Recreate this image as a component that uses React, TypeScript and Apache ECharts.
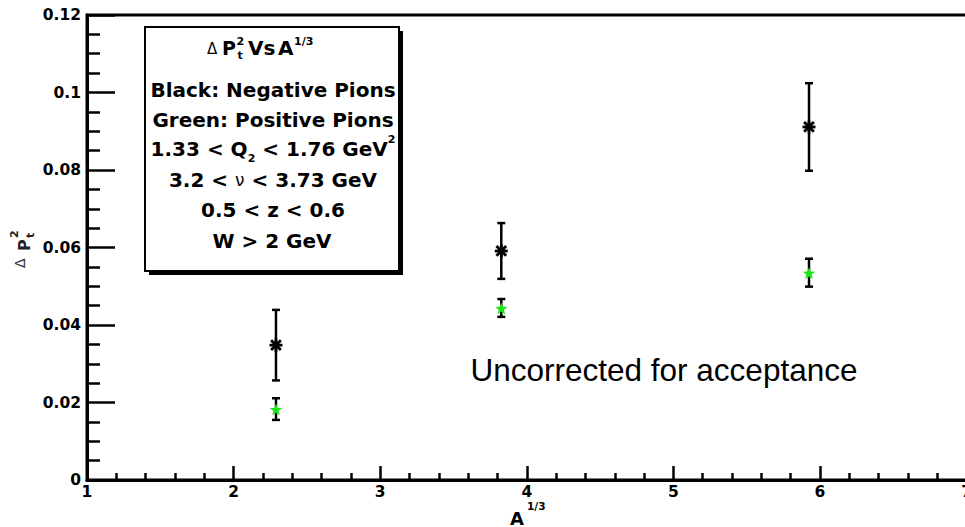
import React, { useEffect, useRef } from "react";
import * as echarts from "echarts";

// A^(1/3) of the three nuclei (C, Fe, Pb)
const nucleiX = [2.289, 3.826, 5.925];
// Black: negative pions
const negPionY = [0.0348, 0.0591, 0.0911];
const negPionErr = [0.0091, 0.0072, 0.0113];
// Green: positive pions
const posPionY = [0.0183, 0.0444, 0.0535];
const posPionErr = [0.0028, 0.0023, 0.0036];

const xTickLabels = ["1", "2", "3", "4", "5", "6", "7"];
const yTickLabels = ["0", "0.02", "0.04", "0.06", "0.08", "0.1", "0.12"];

const BOLD = { fontFamily: "DejaVu Sans", fontWeight: "bold" as const };

function errorBarItem(kind: "asterisk" | "star") {
  return (params: any, api: any) => {
    const x = api.value(0);
    const y = api.value(1);
    const e = api.value(2);
    const c = api.coord([x, y]);
    const t = api.coord([x, y + e]);
    const b = api.coord([x, y - e]);
    const cap = 4;
    const ls = { stroke: "#000", lineWidth: 2.5 };
    const children: any[] = [
      { type: "line", shape: { x1: t[0], y1: t[1], x2: b[0], y2: b[1] }, style: ls },
      { type: "line", shape: { x1: t[0] - cap, y1: t[1], x2: t[0] + cap, y2: t[1] }, style: ls },
      { type: "line", shape: { x1: b[0] - cap, y1: b[1], x2: b[0] + cap, y2: b[1] }, style: ls },
    ];
    if (kind === "asterisk") {
      const r = 6.5;
      const d = r * 0.75;
      const ms = { stroke: "#000", lineWidth: 2.8 };
      children.push(
        { type: "line", shape: { x1: c[0] - r, y1: c[1], x2: c[0] + r, y2: c[1] }, style: ms },
        { type: "line", shape: { x1: c[0], y1: c[1] - r, x2: c[0], y2: c[1] + r }, style: ms },
        { type: "line", shape: { x1: c[0] - d, y1: c[1] - d, x2: c[0] + d, y2: c[1] + d }, style: ms },
        { type: "line", shape: { x1: c[0] - d, y1: c[1] + d, x2: c[0] + d, y2: c[1] - d }, style: ms }
      );
    } else {
      const pts: number[][] = [];
      const ro = 6.5;
      const ri = 2.7;
      for (let i = 0; i < 10; i++) {
        const a = -Math.PI / 2 + (i * Math.PI) / 5;
        const r = i % 2 === 0 ? ro : ri;
        pts.push([c[0] + r * Math.cos(a), c[1] + 1 + r * Math.sin(a)]);
      }
      children.push({ type: "polygon", shape: { points: pts }, style: { fill: "#19e619" } });
    }
    return { type: "group", children };
  };
}

export default function App() {
  const ref = useRef<HTMLDivElement>(null);
  useEffect(() => {
    if (!ref.current) return;
    const chart = echarts.init(ref.current, undefined, { renderer: "svg" });
    const negData = nucleiX.map((x, i) => [x, negPionY[i], negPionErr[i]]);
    const posData = nucleiX.map((x, i) => [x, posPionY[i], posPionErr[i]]);
    const txt = (text: string, x: number, y: number, extra: any = {}) => ({
      type: "text",
      z: 20,
      style: {
        text,
        x,
        y,
        fill: "#000",
        fontSize: 20,
        ...BOLD,
        align: "center",
        textAlign: "center",
        verticalAlign: "middle",
        textVerticalAlign: "middle",
        ...extra,
      },
    });
    const left = (o: any) => ({ ...o, align: "left", textAlign: "left" });
    chart.setOption({
      animation: false,
      backgroundColor: "#fff",
      grid: {
        left: 87,
        right: 6,
        top: 15,
        bottom: 47,
        show: true,
        borderColor: "#000",
        borderWidth: 3,
        backgroundColor: "transparent",
      },
      xAxis: {
        type: "value",
        min: 1,
        max: 7,
        interval: 1,
        axisLine: { show: true, onZero: false, lineStyle: { color: "#000", width: 3 } },
        axisTick: { show: true, inside: true, length: 14, lineStyle: { color: "#000", width: 2.5 } },
        minorTick: { show: true, splitNumber: 5, length: 7, lineStyle: { color: "#000", width: 2.5 } },
        splitLine: { show: false },
        axisLabel: {
          color: "#000",
          fontSize: 15.5,
          ...BOLD,
          margin: 4,
          formatter: (v: number) => xTickLabels[Math.round(v) - 1] ?? "",
        },
      },
      yAxis: {
        type: "value",
        min: 0,
        max: 0.12,
        interval: 0.02,
        axisLine: { show: true, onZero: false, lineStyle: { color: "#000", width: 3 } },
        axisTick: { show: true, inside: true, length: 28, lineStyle: { color: "#000", width: 2.5 } },
        minorTick: { show: true, splitNumber: 4, length: 13, lineStyle: { color: "#000", width: 2.5 } },
        splitLine: { show: false },
        axisLabel: {
          color: "#000",
          fontSize: 15.5,
          ...BOLD,
          margin: 6,
          formatter: (v: number) => yTickLabels[Math.round(v / 0.02)] ?? "",
        },
      },
      series: [
        {
          name: "Black: Negative Pions",
          type: "custom",
          renderItem: errorBarItem("asterisk"),
          data: negData,
          encode: { x: 0, y: 1 },
          z: 5,
        },
        {
          name: "Green: Positive Pions",
          type: "custom",
          renderItem: errorBarItem("star"),
          data: posData,
          encode: { x: 0, y: 1 },
          z: 5,
        },
      ],
      graphic: [
        { type: "rect", z: 18, shape: { x: 149, y: 31, width: 254, height: 244 }, style: { fill: "#000" } },
        {
          type: "rect",
          z: 19,
          shape: { x: 145, y: 27, width: 254, height: 244 },
          style: { fill: "#fff", stroke: "#000", lineWidth: 2 },
        },
        // title line: Δ P_t^2 Vs A^{1/3}
        txt("\u0394", 207, 49, left({ fontWeight: "normal", fontSize: 15 })),
        txt("P", 222, 48, left({ fontSize: 19 })),
        txt("2", 236.5, 41, left({ fontSize: 11 })),
        txt("t", 237.5, 55, left({ fontSize: 11 })),
        txt("Vs", 248, 48, left({})),
        txt("A", 278, 48, left({})),
        txt("1/3", 294, 41, left({ fontSize: 11 })),
        txt("Black: Negative Pions", 273, 90),
        txt("Green: Positive Pions", 273, 120),
        txt("", 273, 149, {
          text: "{m|1.33 < Q}{sub|2}{m| < 1.76 GeV}{sup|2}",
          rich: {
            m: { fontSize: 20, ...BOLD, lineHeight: 30, fill: "#000" },
            sub: { fontSize: 11, ...BOLD, verticalAlign: "bottom", fill: "#000" },
            sup: { fontSize: 11, ...BOLD, verticalAlign: "top", fill: "#000" },
          },
        }),
        txt("", 273, 180, {
          text: "{m|3.2 < }{g|\u03bd}{m| < 3.73 GeV}",
          rich: {
            m: { fontSize: 20, ...BOLD, fill: "#000" },
            g: { fontSize: 17, fontFamily: "DejaVu Sans", fontWeight: "normal", fill: "#000" },
          },
        }),
        txt("0.5 < z < 0.6", 273, 210),
        txt("W > 2 GeV", 272, 241),
        // annotation
        txt("Uncorrected for acceptance", 664, 370, {
          fontFamily: "Liberation Sans",
          fontWeight: "normal",
          fontSize: 31.5,
        }),
        // x axis title A^{1/3}
        txt("A", 510, 518, left({ fontSize: 18 })),
        txt("1/3", 527, 505.5, left({ fontSize: 10.5 })),
        // y axis title Δ P_t^2 (rotated)
        {
          type: "group",
          x: 22,
          y: 247,
          rotation: Math.PI / 2,
          z: 20,
          children: [
            txt("\u0394", -21, -2, left({ fontWeight: "normal", fontSize: 14, fill: "#333" })),
            txt("P", -4, 2, left({ fontSize: 16, fill: "#222" })),
            txt("2", 9, -8, left({ fontSize: 11, fill: "#222" })),
            txt("t", 9, 8, left({ fontSize: 11, fill: "#222" })),
          ],
        },
      ],
    });
    return () => chart.dispose();
  }, []);
  return (
    <div
      ref={ref}
      style={{ position: "fixed", left: 0, top: 0, width: 975, height: 527, background: "#fff" }}
    />
  );
}
